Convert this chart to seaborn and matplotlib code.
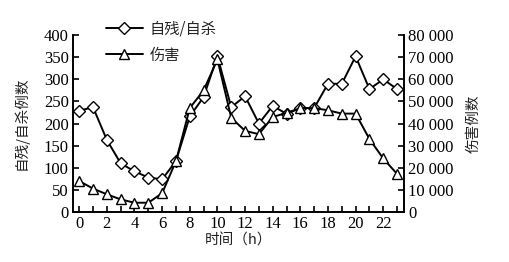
import numpy as np
import pandas as pd
import matplotlib
matplotlib.use("Agg")
import matplotlib.pyplot as plt
import seaborn as sns
from matplotlib.ticker import FuncFormatter, MultipleLocator

# Data
hours = list(range(24))
selfharm = [229, 237, 163, 110, 92, 78, 74, 115, 216, 260, 352, 237, 262, 200,
            240, 222, 235, 235, 290, 290, 352, 278, 300, 278]
injury = [14000, 10600, 8000, 5700, 4200, 4200, 8500, 23000, 47000, 55000, 69000,
          42600, 36700, 35200, 43000, 44800, 47000, 47000, 46000, 44500, 44500,
          33000, 24200, 17200]

xticks = list(range(0, 24, 2))
left_ticks = list(range(0, 401, 50))
right_ticks = list(range(0, 80001, 10000))

df = pd.DataFrame({"hour": hours, "selfharm": selfharm, "injury": injury})

sns.set_theme(style="ticks")
plt.rcParams["font.family"] = ["Liberation Serif", "Noto Sans CJK SC", "DejaVu Sans"]
cjk = ["Noto Sans CJK SC", "DejaVu Sans"]

fig = plt.figure(figsize=(5.09, 2.62), dpi=100)
ax = fig.add_axes([0.1434, 0.1908, 0.6503, 0.6752])
ax2 = ax.twinx()

sns.lineplot(data=df, x="hour", y="selfharm", ax=ax, color="black", lw=1.4,
             marker="D", markersize=6, markerfacecolor="white",
             markeredgecolor="black", markeredgewidth=1.0, label="自残/自杀",
             legend=False)
sns.lineplot(data=df, x="hour", y="injury", ax=ax2, color="black", lw=1.4,
             marker="^", markersize=7.5, markerfacecolor="white",
             markeredgecolor="black", markeredgewidth=1.0, label="伤害",
             legend=False)

ax.set_xlim(-0.45, 23.5)
ax.set_ylim(0, 400)
ax2.set_ylim(0, 80000)
ax.set_xticks(xticks)
ax.xaxis.set_minor_locator(MultipleLocator(1))
ax.set_yticks(left_ticks)
ax2.set_yticks(right_ticks)
ax2.yaxis.set_major_formatter(FuncFormatter(
    lambda v, p: "0" if v == 0 else f"{int(v):,}".replace(",", " ")))

for a in (ax, ax2):
    a.tick_params(axis="both", which="both", direction="in", length=4,
                  width=1.2, labelsize=12, colors="black", pad=3)
    a.tick_params(axis="x", which="minor", length=4)
    for s in a.spines.values():
        s.set_linewidth(1.4)
        s.set_color("black")
    a.spines["top"].set_visible(False)
    a.set_facecolor("none")
ax.spines["right"].set_visible(False)
ax2.spines["left"].set_visible(False)
ax2.spines["bottom"].set_visible(False)

ax.set_xlabel("时间（h）", family=cjk, fontsize=10.5, color="#222222", labelpad=1)
ax.set_ylabel("自残/自杀例数", family=cjk, fontsize=10.5, color="#222222", labelpad=11)
ax2.set_ylabel("伤害例数", family=cjk, fontsize=10.5, color="#222222", labelpad=9)

h1, l1 = ax.get_legend_handles_labels()
h2, l2 = ax2.get_legend_handles_labels()
fig.legend(h1 + h2, l1 + l2, loc="center left", bbox_to_anchor=(0.208, 0.84),
           frameon=False, prop={"family": cjk, "size": 11}, handlelength=2.4,
           labelspacing=0.6, handletextpad=0.45, borderpad=0, borderaxespad=0)

fig.savefig("out.png", dpi=100)
